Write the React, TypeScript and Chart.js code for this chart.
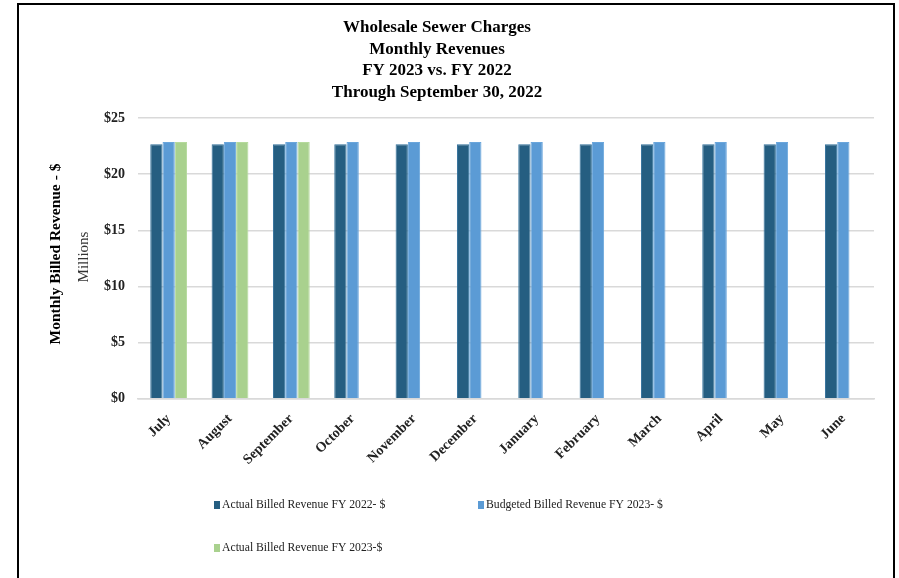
import React, { useEffect, useRef } from "react";
import { Chart, registerables } from "chart.js";

Chart.register(...registerables);

const months = ["July", "August", "September", "October", "November", "December", "January", "February", "March", "April", "May", "June"];
const actualFY2022 = [22.66, 22.66, 22.66, 22.66, 22.66, 22.66, 22.66, 22.66, 22.66, 22.66, 22.66, 22.66];
const budgetedFY2023 = [22.86, 22.86, 22.86, 22.86, 22.86, 22.86, 22.86, 22.86, 22.86, 22.86, 22.86, 22.86];
const actualFY2023: (number | null)[] = [22.86, 22.86, 22.86, null, null, null, null, null, null, null, null, null];
const seriesLabels = ["Actual Billed Revenue FY 2022- $", "Budgeted Billed Revenue FY 2023- $", "Actual Billed Revenue FY 2023-$"];
const titleLines = ["Wholesale Sewer Charges", "Monthly Revenues", "FY 2023 vs. FY 2022", "Through September 30, 2022"];
const yTitle = "Monthly Billed Revenue - $";
const ySubTitle = "Millions";

const FONT = "'Liberation Serif', 'DejaVu Serif', serif";
const colors = ["#255E81", "#5B9BD5", "#A9D18E"];

const sidePlugin = {
  id: "sideTexts",
  afterDraw(chart: any) {
    const ctx = chart.ctx;
    ctx.save();
    ctx.fillStyle = "#000";
    ctx.textAlign = "center";
    ctx.textBaseline = "middle";
    ctx.save();
    ctx.translate(56, 254);
    ctx.rotate(-Math.PI / 2);
    ctx.font = `bold 15.5px ${FONT}`;
    ctx.fillText(yTitle, 0, 0);
    ctx.restore();
    ctx.save();
    ctx.translate(84, 257);
    ctx.rotate(-Math.PI / 2);
    ctx.font = `15px ${FONT}`;
    ctx.fillStyle = "#333";
    ctx.fillText(ySubTitle, 0, 0);
    ctx.restore();
    // legend
    const items = [
      { x: 214, y: 505 },
      { x: 478, y: 505 },
      { x: 214, y: 548 },
    ];
    ctx.textAlign = "left";
    ctx.font = `11.7px ${FONT}`;
    chart.data.datasets.forEach((ds: any, i: number) => {
      const p = items[i];
      ctx.fillStyle = ds.backgroundColor;
      ctx.fillRect(p.x, p.y - 4, 6, 8);
      ctx.fillStyle = "#222";
      ctx.fillText(ds.label, p.x + 8, p.y);
    });
    ctx.restore();
  },
};

export default function App() {
  const ref = useRef<HTMLCanvasElement>(null);
  useEffect(() => {
    if (!ref.current) return;
    const chart = new Chart(ref.current, {
      type: "bar",
      data: {
        labels: months,
        datasets: [
          { label: seriesLabels[0], data: actualFY2022, backgroundColor: colors[0], borderColor: "#2E6E99", borderWidth: 1 },
          { label: seriesLabels[1], data: budgetedFY2023, backgroundColor: colors[1], borderColor: "#6AA6DC", borderWidth: 1 },
          { label: seriesLabels[2], data: actualFY2023, backgroundColor: colors[2], borderColor: "#B5DA9C", borderWidth: 1 },
        ],
      },
      options: {
        animation: false,
        responsive: false,
        maintainAspectRatio: false,
        layout: { padding: { left: 0, right: 25, top: 0, bottom: 0 } },
        datasets: { bar: { categoryPercentage: 0.6, barPercentage: 1 } },
        plugins: {
          legend: { display: false },
          tooltip: { enabled: false },
          title: {
            display: true,
            text: titleLines,
            color: "#000",
            font: { family: FONT, size: 17, weight: "bold", lineHeight: 1.265 },
            padding: { top: 17.25, bottom: 14.75 },
          },
        },
        scales: {
          x: {
            grid: { display: false, drawTicks: false },
            border: { display: true, color: "#d9d9d9", width: 1.5 },
            ticks: {
              color: "#222",
              font: { family: FONT, size: 14, weight: "bold" },
              maxRotation: 45,
              minRotation: 45,
              padding: 12,
            },
            afterFit(scale: any) {
              scale.height = 179.3;
            },
          },
          y: {
            min: 0,
            max: 25,
            grid: { color: "#d9d9d9", lineWidth: 1.5, drawTicks: false },
            border: { display: false },
            ticks: {
              stepSize: 5,
              color: "#222",
              padding: 13,
              font: { family: FONT, size: 14, weight: "bold" },
              callback: (v: any) => "$" + v,
            },
            afterFit(scale: any) {
              scale.width = 138;
            },
          },
        },
      },
      plugins: [sidePlugin],
    });
    return () => chart.destroy();
  }, []);
  return (
    <div>
      <canvas ref={ref} width={899} height={578} style={{ position: "absolute", left: 0, top: 0, width: 899, height: 578 }} />
      <div
        style={{
          position: "absolute",
          left: 17,
          top: 3,
          width: 874,
          height: 600,
          borderTop: "2px solid #000",
          borderLeft: "2px solid #000",
          borderRight: "2px solid #000",
          pointerEvents: "none",
        }}
      />
    </div>
  );
}
